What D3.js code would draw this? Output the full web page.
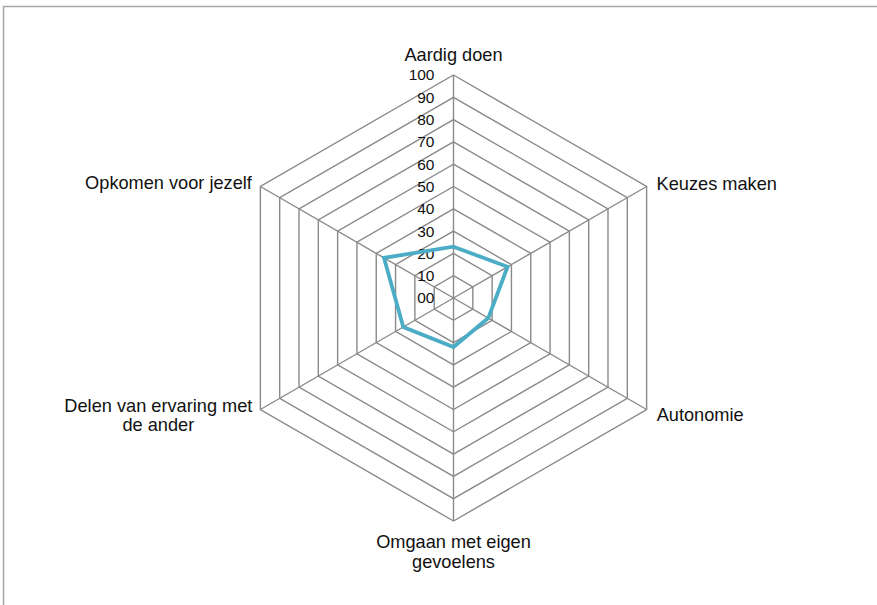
<!DOCTYPE html>
<html>
<head>
<meta charset="utf-8">
<script src="https://cdn.jsdelivr.net/npm/d3@7"></script>
<style>
  body { margin: 0; background: #fff; }
  svg { display: block; font-family: "Liberation Sans", Arial, sans-serif; }
</style>
</head>
<body>
<script>
// chart data
const axes = [
    ['Aardig doen'],
    ['Keuzes maken'],
    ['Autonomie'],
    ['Omgaan met eigen', 'gevoelens'],
    ['Delen van ervaring met', 'de ander'],
    ['Opkomen voor jezelf']
];
const values = [23, 28, 18, 22, 26, 36];
const ticks = [0, 10, 20, 30, 40, 50, 60, 70, 80, 90, 100];
const tickLabels = ['00', '10', '20', '30', '40', '50', '60', '70', '80', '90', '100'];

const W = 877, H = 605;
const cx = 453.5, cy = 298, R = 223;
const gridColor = '#8a8a8a';
const lineColor = '#4bacc6';
const textColor = '#111';

const svg = d3.select('body').append('svg')
    .attr('width', W)
    .attr('height', H);

// outer frame (cut off by the window on right / bottom)
svg.append('rect')
    .attr('x', 3.5).attr('y', 6.5)
    .attr('width', 1000).attr('height', 1000)
    .attr('fill', 'none')
    .attr('stroke', '#a6a6a6')
    .attr('stroke-width', 1.5);

const r = d3.scaleLinear().domain([0, 100]).range([0, R]);
const angle = i => i * 2 * Math.PI / axes.length;

const g = svg.append('g').attr('transform', `translate(${cx},${cy})`);

const ring = d3.lineRadial()
    .angle((_, i) => angle(i))
    .radius(d => r(d))
    .curve(d3.curveLinearClosed);

// hexagon rings
g.selectAll('.ring')
    .data(ticks.filter(t => t > 0))
    .join('path')
    .attr('class', 'ring')
    .attr('d', t => ring(axes.map(() => t)))
    .attr('fill', 'none')
    .attr('stroke', gridColor)
    .attr('stroke-width', 1.4);

// spokes
g.selectAll('.spoke')
    .data(axes)
    .join('line')
    .attr('class', 'spoke')
    .attr('x1', 0).attr('y1', 0)
    .attr('x2', (_, i) => r(100) * Math.sin(angle(i)))
    .attr('y2', (_, i) => -r(100) * Math.cos(angle(i)))
    .attr('stroke', gridColor)
    .attr('stroke-width', 1.4);

// tick labels along the top axis
g.selectAll('.tick')
    .data(ticks)
    .join('text')
    .attr('class', 'tick')
    .attr('x', -19)
    .attr('y', t => -r(t))
    .attr('dy', '0.35em')
    .attr('text-anchor', 'end')
    .attr('font-size', 15.5)
    .attr('fill', textColor)
    .text((_, i) => tickLabels[i]);

// data line
g.append('path')
    .attr('d', ring(values))
    .attr('fill', 'none')
    .attr('stroke', lineColor)
    .attr('stroke-width', 3.8)
    .attr('stroke-linejoin', 'miter');

// axis labels
const lineH = 19.5;
axes.forEach((lines, i) => {
    const a = angle(i);
    const vx = r(100) * Math.sin(a);
    const vy = -r(100) * Math.cos(a);
    const t = g.append('text')
        .attr('font-size', 18.2)
        .attr('fill', textColor)
        .attr('text-anchor', 'middle');
    lines.forEach((s, k) => {
        t.append('tspan').attr('x', 0).attr('y', k * lineH).text(s);
    });
    const w = t.node().getBBox().width;
    let x, y;
    if (Math.abs(vx) < 1) {
        x = vx;
        y = vy < 0 ? vy - 14 : vy + 27;
    } else if (vx > 0) {
        x = vx + 10 + w / 2;
        y = vy < 0 ? vy + 3 : vy + 11;
    } else {
        x = vx - 8 - w / 2;
        y = vy < 0 ? vy + 2.5 : vy + 2;
    }
    t.attr('transform', `translate(${x},${y})`);
});
</script>
</body>
</html>
